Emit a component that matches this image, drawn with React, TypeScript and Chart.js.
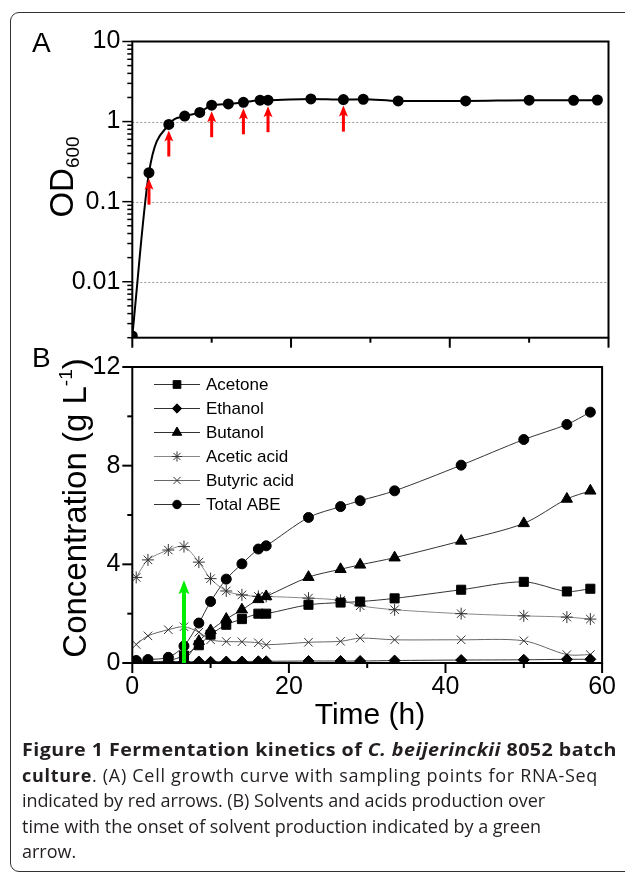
import React, { useEffect, useLayoutEffect, useRef } from 'react';
import { Chart, registerables } from 'chart.js';
import { drawPoint } from 'chart.js/helpers';

Chart.register(...registerables);

const FONT = '"Liberation Sans", Arial, sans-serif';

// ---------- Panel A : cell growth ----------
const odTime = [0, 2.1, 4.6, 6.6, 8.5, 10.0, 12.1, 14.0, 16.1, 17.1, 22.5, 26.6, 29.1, 33.5, 42.0, 50.0, 55.6, 58.6];
const odValues = [0.0021, 0.23, 0.92, 1.17, 1.3, 1.6, 1.66, 1.74, 1.85, 1.85, 1.92, 1.88, 1.9, 1.81, 1.81, 1.85, 1.84, 1.86];
const samplingTimes = [2.1, 4.6, 10.0, 14.0, 17.1, 26.6];
const odTickLabels = [0.01, 0.1, 1, 10];
const odGridLines = [0.01, 0.1, 1];

// ---------- Panel B : solvents and acids ----------
const time = [0.5, 2.0, 4.6, 6.6, 8.5, 10.0, 12.0, 14.0, 16.1, 17.1, 22.5, 26.6, 29.1, 33.5, 42.0, 50.0, 55.5, 58.5];
const acetone = [0.0, 0.03, 0.1, 0.3, 0.72, 1.15, 1.55, 1.78, 2.0, 2.0, 2.36, 2.45, 2.49, 2.62, 2.97, 3.29, 2.9, 3.01];
const ethanol = [0.08, 0.06, 0.06, 0.05, 0.06, 0.05, 0.06, 0.06, 0.07, 0.07, 0.08, 0.08, 0.08, 0.1, 0.12, 0.13, 0.15, 0.15];
const butanol = [0.02, 0.03, 0.05, 0.12, 0.88, 1.32, 1.78, 2.16, 2.58, 2.7, 3.48, 3.8, 3.98, 4.27, 4.95, 5.66, 6.65, 6.98];
const aceticAcid = [3.47, 4.18, 4.58, 4.72, 4.09, 3.42, 2.92, 2.76, 2.7, 2.7, 2.63, 2.54, 2.32, 2.16, 2.0, 1.91, 1.86, 1.78];
const butyricAcid = [0.75, 1.1, 1.35, 1.47, 1.25, 0.94, 0.87, 0.86, 0.82, 0.74, 0.84, 0.88, 1.01, 0.94, 0.94, 0.9, 0.34, 0.34];
const totalABE = [0.1, 0.14, 0.23, 0.69, 1.62, 2.49, 3.4, 4.02, 4.62, 4.75, 5.9, 6.34, 6.58, 6.98, 8.02, 9.06, 9.67, 10.17];
const seriesNames = ['Acetone', 'Ethanol', 'Butanol', 'Acetic acid', 'Butyric acid', 'Total ABE'];
const onsetTime = 6.6;
const onsetArrowTop = 3.35;
const concTickLabels = [0, 4, 8, 12];
const timeTickLabels = [0, 20, 40, 60];

// ---------- caption ----------
const captionTargetWidths = [595, 576, 523, 519, 0];

// ---------- helpers ----------
function drawArrow(ctx: CanvasRenderingContext2D, x: number, yTail: number, yTip: number, color: string, shaftW: number, headW: number, headL: number) {
  ctx.save();
  ctx.fillStyle = color;
  ctx.fillRect(x - shaftW / 2, yTip + headL * 0.7, shaftW, yTail - (yTip + headL * 0.7));
  ctx.beginPath();
  ctx.moveTo(x, yTip);
  ctx.lineTo(x - headW / 2, yTip + headL);
  ctx.lineTo(x, yTip + headL * 0.78);
  ctx.lineTo(x + headW / 2, yTip + headL);
  ctx.closePath();
  ctx.fill();
  ctx.restore();
}

function drawFrame(ctx: CanvasRenderingContext2D, a: any) {
  ctx.save();
  ctx.strokeStyle = '#000';
  ctx.lineWidth = 2;
  ctx.strokeRect(a.left, a.top, a.right - a.left, a.bottom - a.top);
  ctx.restore();
}

function xTickMarks(ctx: CanvasRenderingContext2D, chart: any) {
  const xs = chart.scales.x;
  const a = chart.chartArea;
  ctx.save();
  ctx.strokeStyle = '#000';
  ctx.lineWidth = 2;
  for (let v = xs.min; v <= xs.max; v += 10) {
    const px = xs.getPixelForValue(v);
    const len = v % 20 === 0 ? 10 : 5;
    ctx.beginPath();
    ctx.moveTo(px, a.bottom);
    ctx.lineTo(px, a.bottom + len);
    ctx.stroke();
  }
  ctx.restore();
}

function drawRotatedText(ctx: CanvasRenderingContext2D, parts: { t: string; size: number; dy: number }[], cx: number, cy: number) {
  ctx.save();
  ctx.translate(cx, cy);
  ctx.rotate(-Math.PI / 2);
  ctx.fillStyle = '#000';
  ctx.textBaseline = 'alphabetic';
  let total = 0;
  for (const p of parts) {
    ctx.font = `${p.size}px ${FONT}`;
    total += ctx.measureText(p.t).width;
  }
  let x = -total / 2;
  for (const p of parts) {
    ctx.font = `${p.size}px ${FONT}`;
    ctx.fillText(p.t, x, p.dy);
    x += ctx.measureText(p.t).width;
  }
  ctx.restore();
}

// ---------- Panel A ----------
const panelAPlugin = {
  id: 'panelA',
  beforeDatasetsDraw(chart: any) {
    const ctx = chart.ctx;
    const a = chart.chartArea;
    const ys = chart.scales.y;
    ctx.save();
    ctx.strokeStyle = '#9a9a9a';
    ctx.lineWidth = 1;
    ctx.setLineDash([2, 2]);
    for (const v of odGridLines) {
      const py = Math.round(ys.getPixelForValue(v)) + 0.5;
      ctx.beginPath();
      ctx.moveTo(a.left, py);
      ctx.lineTo(a.right, py);
      ctx.stroke();
    }
    ctx.restore();
  },
  afterDatasetsDraw(chart: any) {
    const ctx = chart.ctx;
    const a = chart.chartArea;
    const ys = chart.scales.y;
    const xs = chart.scales.x;
    drawFrame(ctx, a);
    ctx.save();
    ctx.strokeStyle = '#000';
    ctx.lineWidth = 1.5;
    for (let e = -3; e <= 1; e++) {
      for (let m = 1; m <= 9; m++) {
        const v = m * Math.pow(10, e);
        if (v < ys.min * 0.999 || v > ys.max * 1.001) continue;
        const py = ys.getPixelForValue(v);
        const len = m === 1 ? 10 : 5;
        ctx.beginPath();
        ctx.moveTo(a.left, py);
        ctx.lineTo(a.left - len, py);
        ctx.stroke();
      }
    }
    ctx.restore();
    xTickMarks(ctx, chart);
    for (const t of samplingTimes) {
      const idx = odTime.indexOf(t);
      const px = xs.getPixelForValue(t);
      const tip = ys.getPixelForValue(odValues[idx]) + 6;
      drawArrow(ctx, px, tip + 26, tip, '#ff0000', 3, 9, 11);
    }
    ctx.save();
    ctx.fillStyle = '#000';
    ctx.font = `28px ${FONT}`;
    ctx.textBaseline = 'alphabetic';
    ctx.fillText('A', 32, 52);
    ctx.restore();
    drawRotatedText(ctx, [
      { t: 'OD', size: 33, dy: 0 },
      { t: '600', size: 19, dy: 6 },
    ], 73, 177);
  },
};

// ---------- Panel B ----------
const panelBPlugin = {
  id: 'panelB',
  afterDatasetsDraw(chart: any) {
    const ctx = chart.ctx;
    const a = chart.chartArea;
    const ys = chart.scales.y;
    const xs = chart.scales.x;
    drawFrame(ctx, a);
    ctx.save();
    ctx.strokeStyle = '#000';
    ctx.lineWidth = 2;
    for (let v = ys.min; v <= ys.max; v += 2) {
      const py = ys.getPixelForValue(v);
      const len = v % 4 === 0 ? 10 : 5;
      ctx.beginPath();
      ctx.moveTo(a.left, py);
      ctx.lineTo(a.left - len, py);
      ctx.stroke();
    }
    ctx.restore();
    xTickMarks(ctx, chart);
    const gx = xs.getPixelForValue(onsetTime);
    drawArrow(ctx, gx, ys.getPixelForValue(0), ys.getPixelForValue(onsetArrowTop), '#00ee00', 4, 11, 14);
    ctx.save();
    ctx.fillStyle = '#000';
    ctx.font = `28px ${FONT}`;
    ctx.fillText('B', 32, 27);
    ctx.font = `30px ${FONT}`;
    ctx.textAlign = 'center';
    ctx.fillText('Time (h)', 370, 384);
    ctx.restore();
    drawRotatedText(ctx, [
      { t: 'Concentration (g L', size: 33, dy: 0 },
      { t: '-1', size: 19, dy: -14 },
      { t: ')', size: 33, dy: 0 },
    ], 86, 168);
    ctx.save();
    chart.data.datasets.forEach((ds: any, i: number) => {
      const y = 44 + 24 * i;
      ctx.strokeStyle = ds.borderColor;
      ctx.lineWidth = 1;
      ctx.beginPath();
      ctx.moveTo(154, y + 0.5);
      ctx.lineTo(200, y + 0.5);
      ctx.stroke();
      ctx.fillStyle = ds.pointBackgroundColor;
      ctx.strokeStyle = ds.pointBorderColor;
      ctx.lineWidth = ds.pointBorderWidth;
      drawPoint(ctx, { pointStyle: ds.pointStyle, rotation: 0, radius: ds.pointRadius * 0.85, borderWidth: ds.pointBorderWidth }, 177, y + 0.5);
      ctx.fillStyle = '#000';
      ctx.font = `17px ${FONT}`;
      ctx.textBaseline = 'middle';
      ctx.fillText(ds.label, 206, y + 1);
    });
    ctx.restore();
  },
};

function series(label: string, data: number[], style: string, radius: number, lineColor: string, markColor: string, bw: number) {
  return {
    label,
    data: time.map((t, i) => ({ x: t, y: data[i] })),
    borderColor: lineColor,
    borderWidth: 1,
    pointStyle: style,
    pointRadius: radius,
    pointBackgroundColor: markColor,
    pointBorderColor: markColor,
    pointBorderWidth: bw,
    tension: 0.3,
    clip: 0,
    fill: false,
  };
}

export default function App() {
  const refA = useRef<HTMLCanvasElement>(null);
  const refB = useRef<HTMLCanvasElement>(null);
  const lineRefs = useRef<(HTMLSpanElement | null)[]>([]);

  useLayoutEffect(() => {
    lineRefs.current.forEach((el, i) => {
      if (!el || !captionTargetWidths[i]) return;
      el.style.letterSpacing = '0px';
      el.style.transform = 'none';
      const w = el.getBoundingClientRect().width;
      const n = (el.textContent || '').length;
      if (i === 0) {
        // bold line: widen mostly by glyph stretch, a little by spacing
        el.style.letterSpacing = '0.4px';
        const w2 = el.getBoundingClientRect().width;
        el.style.transformOrigin = '0 50%';
        el.style.transform = `scaleX(${captionTargetWidths[i] / w2})`;
      } else {
        el.style.letterSpacing = `${(captionTargetWidths[i] - w) / n}px`;
      }
    });
  }, []);

  useEffect(() => {
    const tickFont = { family: FONT, size: 25 };
    const chartA = new Chart(refA.current as HTMLCanvasElement, {
      type: 'line',
      data: {
        datasets: [
          {
            label: 'OD600',
            data: odTime.map((t, i) => ({ x: t, y: odValues[i] })),
            borderColor: '#000',
            borderWidth: 2,
            pointRadius: 4.5,
            pointBackgroundColor: '#000',
            pointBorderColor: '#000',
            cubicInterpolationMode: 'monotone',
          },
        ],
      },
      options: {
        responsive: false,
        maintainAspectRatio: false,
        animation: false,
        layout: { padding: { left: 0, right: 16.5, top: 41.5, bottom: 0 } },
        plugins: { legend: { display: false }, tooltip: { enabled: false } },
        scales: {
          x: {
            type: 'linear',
            min: 0,
            max: 60,
            ticks: { display: false },
            grid: { display: false, drawTicks: false },
            border: { display: false },
            afterFit: (s: any) => { s.height = 27.3; },
          },
          y: {
            type: 'logarithmic',
            min: 0.002,
            max: 10,
            afterBuildTicks: (s: any) => { s.ticks = odTickLabels.map((v) => ({ value: v })); },
            ticks: { font: tickFont, color: '#000', padding: 12, callback: (v: any) => String(v) },
            grid: { display: false, drawTicks: false },
            border: { display: false },
            afterFit: (s: any) => { s.width = 132.3; },
          },
        },
      } as any,
      plugins: [panelAPlugin],
    });

    const chartB = new Chart(refB.current as HTMLCanvasElement, {
      type: 'line',
      data: {
        datasets: [
          series(seriesNames[0], acetone, 'rect', 6.4, '#333', '#000', 1),
          series(seriesNames[1], ethanol, 'rectRot', 5.5, '#333', '#000', 1),
          series(seriesNames[2], butanol, 'triangle', 6.5, '#333', '#000', 1),
          series(seriesNames[3], aceticAcid, 'star', 6, '#888', '#333', 1),
          series(seriesNames[4], butyricAcid, 'crossRot', 6, '#666', '#333', 1),
          series(seriesNames[5], totalABE, 'circle', 5, '#333', '#000', 1),
        ] as any,
      },
      options: {
        responsive: false,
        maintainAspectRatio: false,
        animation: false,
        layout: { padding: { left: 0, right: 16.5, top: 26.7, bottom: 0 } },
        plugins: { legend: { display: false }, tooltip: { enabled: false } },
        scales: {
          x: {
            type: 'linear',
            min: 0,
            max: 60,
            afterBuildTicks: (s: any) => { s.ticks = timeTickLabels.map((v) => ({ value: v })); },
            ticks: { font: tickFont, color: '#000', padding: 9, maxRotation: 0 },
            grid: { display: false, drawTicks: false },
            border: { display: false },
            afterFit: (s: any) => { s.height = 77; },
          },
          y: {
            type: 'linear',
            min: 0,
            max: 12,
            afterBuildTicks: (s: any) => { s.ticks = concTickLabels.map((v) => ({ value: v })); },
            ticks: { font: tickFont, color: '#000', padding: 12 },
            grid: { display: false, drawTicks: false },
            border: { display: false },
            afterFit: (s: any) => { s.width = 132.3; },
          },
        },
      } as any,
      plugins: [panelBPlugin],
    });

    return () => {
      chartA.destroy();
      chartB.destroy();
    };
  }, []);

  const captionStyle: React.CSSProperties = {
    position: 'absolute',
    left: 22,
    top: 737,
    fontFamily: '"Open Sans", sans-serif',
    fontSize: 18,
    lineHeight: '25.5px',
    color: '#231f20',
    whiteSpace: 'nowrap',
  };
  const lineStyle: React.CSSProperties = { display: 'inline-block' };
  const setRef = (i: number) => (el: HTMLSpanElement | null) => { lineRefs.current[i] = el; };

  return (
    <div style={{ position: 'absolute', left: 0, top: 0, width: 625, height: 874, background: '#fff', overflow: 'hidden' }}>
      <div style={{ position: 'absolute', left: 10, top: 12, width: 720, height: 860, border: '1.5px solid #333', borderRadius: 9, boxSizing: 'border-box' }} />
      <canvas ref={refA} width={625} height={365} style={{ position: 'absolute', left: 0, top: 0, display: 'block' }} />
      <canvas ref={refB} width={625} height={400} style={{ position: 'absolute', left: 0, top: 340, display: 'block' }} />
      <div style={captionStyle}>
        <span ref={setRef(0)} style={lineStyle}><b>Figure 1 Fermentation kinetics of <i>C. beijerinckii</i> 8052 batch</b></span>
        <br />
        <span ref={setRef(1)} style={lineStyle}><b>culture</b>. (A) Cell growth curve with sampling points for RNA-Seq</span>
        <br />
        <span ref={setRef(2)} style={lineStyle}>indicated by red arrows. (B) Solvents and acids production over</span>
        <br />
        <span ref={setRef(3)} style={lineStyle}>time with the onset of solvent production indicated by a green</span>
        <br />
        <span ref={setRef(4)} style={lineStyle}>arrow.</span>
      </div>
    </div>
  );
}
